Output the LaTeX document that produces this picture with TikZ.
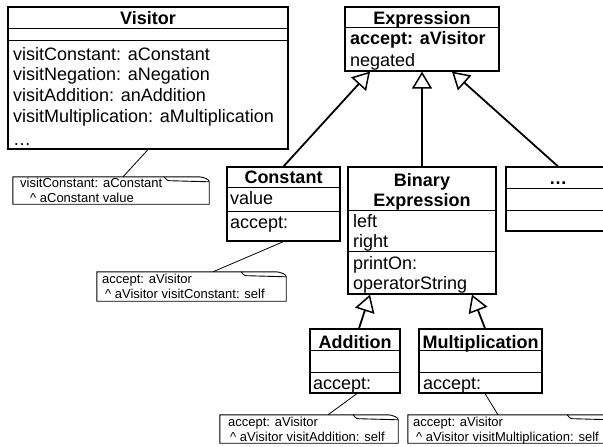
\documentclass[tikz,border=0pt]{standalone}
\usepackage{fontspec}
\setmainfont{Liberation Sans}
\usetikzlibrary{arrows.meta}
\usetikzlibrary{calc}

\tikzset{
  umlbox/.style={draw, line width=1.2pt, inner sep=0pt},
  classname/.style={font=\fontsize{18}{20}\selectfont\bfseries, inner sep=0pt, anchor=base},
  member/.style={font=\fontsize{18}{20}\selectfont, inner sep=0pt, anchor=base west},
  notetext/.style={font=\fontsize{13}{15}\selectfont, inner sep=0pt, anchor=base west},
  notearea/.style={inner sep=0pt},
  inherit/.style={line width=1.8pt, -{Triangle[open, length=17pt, width=20pt, line width=1.5pt]}},
  notelink/.style={line width=0.8pt},
  divider/.style={line width=1.2pt},
}

\begin{document}
\begin{tikzpicture}[x=1pt, y=-1pt]
    \useasboundingbox (0,0) rectangle (603,447);

    \node[umlbox, minimum width=280pt, minimum height=142pt] (vis) at (148,78) {};
    \node[umlbox, minimum width=154pt, minimum height=64pt] (expr) at (422,39) {};
    \node[umlbox, minimum width=113pt, minimum height=74pt] (const) at (283.5,204) {};
    \node[umlbox, minimum width=148pt, minimum height=127pt] (binexp) at (422,230.5) {};
    \node[umlbox, minimum width=104pt, minimum height=64pt] (more) at (558,199) {};
    \node[umlbox, minimum width=90pt, minimum height=64pt] (add) at (355,361) {};
    \node[umlbox, minimum width=123pt, minimum height=64pt] (mult) at (480.5,361) {};

    \foreach \n/\d in {vis/22, vis/34, expr/21, const/21, const/45, binexp/44, binexp/85,
                       more/22, more/44, add/22, add/44, mult/22, mult/44}
      \draw[divider] ($(\n.north west)+(0,\d)$) -- ($(\n.north east)+(0,\d)$);

    \node[classname] (visname) at (148,24) {Visitor};
    \foreach \m [count=\i] in {visitConstant: aConstant, visitNegation: aNegation,
                              visitAddition: anAddition, visitMultiplication: aMultiplication}
      \node[member] (vism\i) at (13,{39.3+20.7*\i}) {\m};
    \node[member] (visdots) at (13,145) {…};

    \node[classname] (exprname) at (422,24) {Expression};
    \node[member, font=\fontsize{18}{20}\selectfont\bfseries] (expracc) at (350,45) {accept: aVisitor};
    \node[member] (exprneg) at (350,66) {negated};

    \node[classname] (constname) at (283.5,183) {Constant};
    \node[member] (constval) at (230,204) {value};
    \node[member] (constacc) at (230,228) {accept:};

    \node[classname] (binname1) at (422,186) {Binary};
    \node[classname] (binname2) at (422,206) {Expression};
    \node[member] (binleft) at (353,227) {left};
    \node[member] (binright) at (353,247) {right};
    \node[member] (binprint) at (353,269) {printOn:};
    \node[member] (binop) at (353,289) {operatorString};

    \node[classname] (morename) at (558,184) {…};

    \node[classname] (addname) at (355,348) {Addition};
    \node[member] (addacc) at (313,389) {accept:};

    \node[classname] (multname) at (480.5,348) {Multiplication};
    \node[member] (multacc) at (423,389) {accept:};

    % inheritance
    \draw[inherit] (const.north) -- ($(expr.south)+(-52,0)$);
    \draw[inherit] (binexp.north) -- (expr.south);
    \draw[inherit] (more.north) -- ($(expr.south)+(30,0)$);
    \draw[inherit] ($(add.north)+(4,0)$) -- ($(binexp.south)+(-52,0)$);
    \draw[inherit] ($(mult.north)+(4.5,0)$) -- ($(binexp.south)+(50,0)$);

    % notes
    \node[notearea, minimum width=196pt, minimum height=27pt] (n1) at (111,190.5) {};
    \node[notearea, minimum width=189pt, minimum height=29pt] (n2) at (191.5,286.5) {};
    \node[notearea, minimum width=178pt, minimum height=28pt] (n3) at (309,429) {};
    \node[notearea, minimum width=204pt, minimum height=28pt] (n4) at (510,429) {};

    \foreach \n in {n1, n2, n3, n4} {
      \draw[line width=0.9pt, fill=white] (\n.south west) -- (\n.north west) -- ($(\n.north east)+(-12,0)$)
        .. controls ($(\n.north east)+(-4,0)$) and ($(\n.north east)+(0,3)$) .. ($(\n.north east)+(0,5)$)
        -- (\n.south east) -- cycle;
      \draw[line width=0.9pt] ($(\n.north east)+(-45,0)$) .. controls ($(\n.north east)+(-42,4)$)
        .. ($(\n.north east)+(-36,4)$) -- ($(\n.north east)+(0,5)$);
    }

    \node[notetext] (n1a) at (20,187.5) {visitConstant: aConstant};
    \node[notetext] (n1b) at (30,202) {\textasciicircum{} aConstant value};
    \node[notetext] (n2a) at (102,283) {accept: aVisitor};
    \node[notetext] (n2b) at (105,298.6) {\textasciicircum{} aVisitor visitConstant: self};
    \node[notetext] (n3a) at (228,426) {accept: aVisitor};
    \node[notetext] (n3b) at (230,441) {\textasciicircum{} aVisitor visitAddition: self};
    \node[notetext] (n4a) at (413,426) {accept: aVisitor};
    \node[notetext] (n4b) at (416,441) {\textasciicircum{} aVisitor visitMultiplication: self};

    \draw[notelink] (vis.south) -- ($(n1.north)+(12,0)$);
    \draw[notelink] (const.south) -- ($(n2.north)+(21.5,0)$);
    \draw[notelink] ($(add.south)+(2,0)$) -- ($(n3.north)+(19,0)$);
    \draw[notelink] ($(mult.south)+(4.5,0)$) -- ($(n4.north)+(-12,0)$);
\end{tikzpicture}
\end{document}
